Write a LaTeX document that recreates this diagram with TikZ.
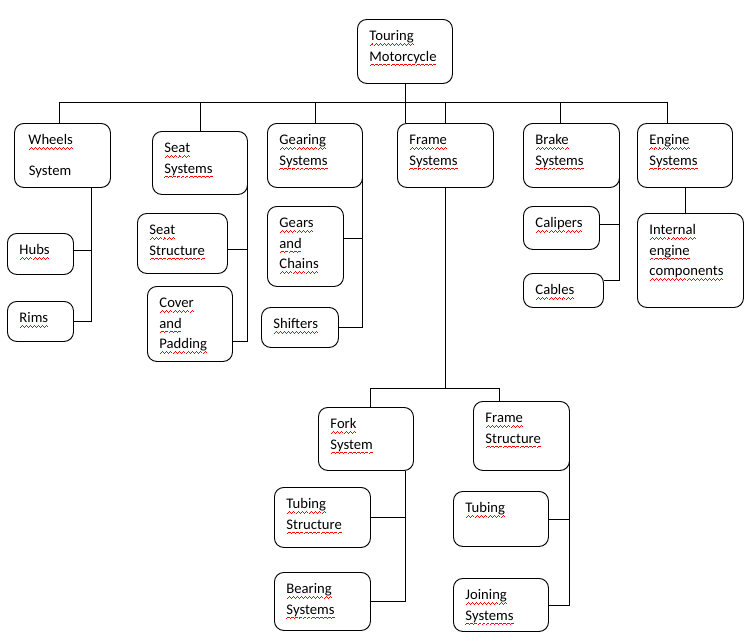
\documentclass[tikz,border=0pt]{standalone}
\usepackage{fontspec}
\setmainfont{Carlito}
\usepackage{tikz}
\usetikzlibrary{calc}

\newdimen\px \px=0.03cm
% red spell-check wave under a word
\newcommand{\sq}[1]{\leavevmode\setbox0\hbox{#1}%
  \rlap{\hbox to \wd0{\color{red}\xleaders\hbox{\rule[-3.8pt]{0.85pt}{0.6pt}\rule[-3.2pt]{0.85pt}{0.6pt}\rule[-2.6pt]{0.85pt}{0.6pt}\rule[-3.2pt]{0.85pt}{0.6pt}}\hfill}}#1}
\newcommand{\boxtext}[3]{\parbox[t][#2\px][t]{#1\px}{\vspace*{6pt}\raggedright\leftskip=12\px\relax\strut#3}}

\begin{document}
\begin{tikzpicture}[x=0.03cm, y=-0.03cm, line width=0.8pt,
  txt/.style={font={\fontsize{12.5pt}{17.5pt}\selectfont}},
  box/.style={txt, draw, rounded corners=8pt, anchor=north west, inner sep=0pt}]
\useasboundingbox (0,0) rectangle (747,642);

% top level
\node[box] (touring) at (357,19) {\boxtext{95}{64}{\sq{Touring}\\\sq{Motorcycle}}};
\node[box, path picture={
    \clip (path picture bounding box.north west) rectangle ($(path picture bounding box.north east)+(0,54)$);
    \node[txt, anchor=base west, inner sep=0pt] (wheels-sys) at ($(path picture bounding box.north west)+(14,52.5)$) {\sq{System}};}]
  (wheels) at (14,123) {\boxtext{96}{64}{\hspace{2\px}\sq{Wheels}}};
\node[box] (seat) at (152,131) {\boxtext{95}{63}{\sq{Seat}\\\sq{Systems}}};
\node[box] (gearing) at (267,123) {\boxtext{95}{64}{\sq{Gearing}\\\sq{Systems}}};
\node[box] (frame) at (397,123) {\boxtext{96}{64}{\sq{Frame}\\\sq{Systems}}};
\node[box] (brake) at (523,123) {\boxtext{96}{64}{\sq{Brake}\\\sq{Systems}}};
\node[box] (engine) at (637,123) {\boxtext{95}{64}{\sq{Engine}\\\sq{Systems}}};

% second level
\node[box] (hubs) at (7,233) {\boxtext{66}{41}{\sq{Hubs}}};
\node[box] (rims) at (7,301) {\boxtext{66}{40}{\sq{Rims}}};
\node[box] (seatstr) at (137,213) {\boxtext{90}{60}{\sq{Seat}\\\sq{Structure}}};
\node[box] (cover) at (147,286) {\boxtext{85}{75}{\sq{Cover}\\\sq{and}\\\sq{Padding}}};
\node[box] (gears) at (267,206) {\boxtext{76}{80}{\sq{Gears}\\\sq{and}\\\sq{Chains}}};
\node[box] (shifters) at (261,307) {\boxtext{77}{40}{\sq{Shifters}}};
\node[box] (calipers) at (523,206) {\boxtext{76}{43}{\sq{Calipers}}};
\node[box] (cables) at (523,273) {\boxtext{80}{34}{\sq{Cables}}};
\node[box] (internal) at (637,213) {\boxtext{106}{94}{\sq{Internal}\\\sq{engine}\\\sq{components}}};

% frame subtree
\node[box] (fork) at (318,407) {\boxtext{95}{63}{\sq{Fork}\\\sq{System}}};
\node[box] (framestr) at (473,401) {\boxtext{96}{69}{\sq{Frame}\\\sq{Structure}}};
\node[box] (tubingstr) at (274,487) {\boxtext{96}{60}{\sq{Tubing}\\\sq{Structure}}};
\node[box] (bearing) at (274,572) {\boxtext{96}{58}{\sq{Bearing}\\\sq{Systems}}};
\node[box] (tubing) at (453,491) {\boxtext{95}{55}{\sq{Tubing}}};
\node[box] (joining) at (453,578) {\boxtext{95}{53}{\sq{Joining}\\\sq{Systems}}};

% top bus
\coordinate (tl) at (59,102);
\coordinate (tr) at (667,102);
\coordinate (bk) at (560,102);
\draw (tl) -- (tr);
\draw (tl) -- (tl |- wheels.north);
\draw (seat.north |- tl) -- (seat.north);
\draw (gearing.north |- tl) -- (gearing.north);
\draw (frame.north |- tl) -- (frame.north);
\draw (bk) -- (bk |- brake.north);
\draw (tr) -- (tr |- engine.north);
\draw (touring.south) -- (touring.south |- frame.north);

% branches
\coordinate (wk) at ($(wheels.south west)+(77,0)$);
\coordinate (hk) at ($(hubs.east)+(0,-4)$);
\draw (wk) |- (rims.east);
\draw (hk) -- (hk -| wk);
\coordinate (sk) at ($(seatstr.east)+(0,6)$);
\draw (seat.east) |- ($(cover.south east)+(0,-20)$);
\draw (sk) -- (sk -| seat.east);
\coordinate (gk) at ($(gears.east)+(0,-8)$);
\draw (gearing.east) |- (shifters.east);
\draw (gk) -- (gk -| gearing.east);
\coordinate (ck) at ($(calipers.east)+(0,-4)$);
\coordinate (cb) at ($(cables.east)+(0,-10)$);
\draw (brake.east) |- (cb);
\draw (ck) -- (ck -| brake.east);
\draw (engine.south) -- (engine.south |- internal.north);

% frame systems
\coordinate (fl) at (370,388);
\coordinate (fr) at (499,388);
\draw (frame.south) -- (frame.south |- fl);
\draw (fl) -- (fr);
\draw (fl) -- (fl |- fork.north);
\draw (fr) -- (fr |- framestr.north);
\coordinate (fv) at ($(fork.south east)+(-8,0)$);
\draw (fv) |- (bearing.east);
\draw (tubingstr.east) -- (tubingstr.east -| fv);
\draw (framestr.east) |- (joining.east);
\draw (tubing.east) -- (tubing.east -| framestr.east);
\end{tikzpicture}
\end{document}
